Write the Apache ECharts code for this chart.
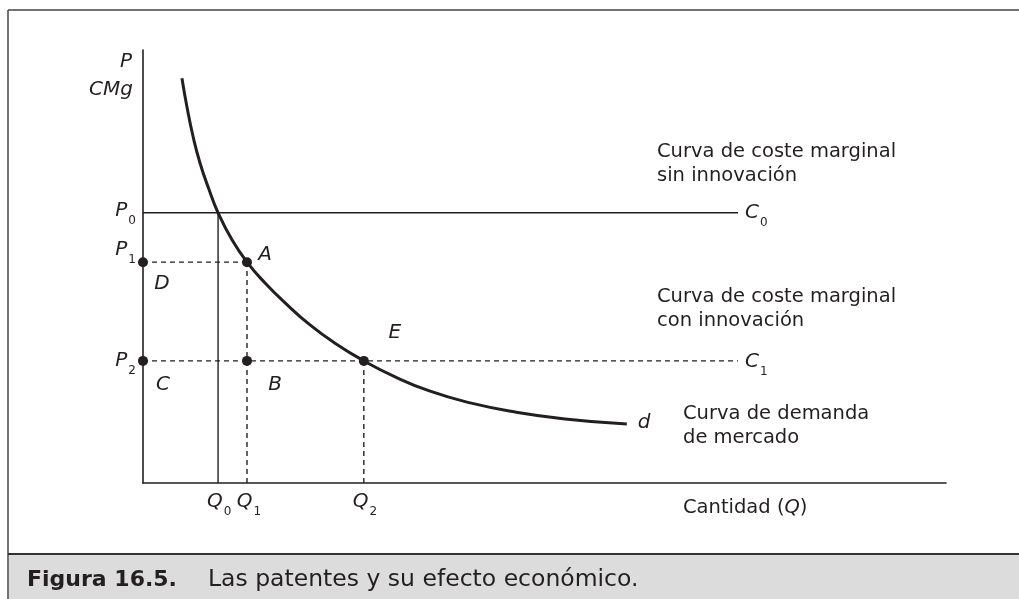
<!DOCTYPE html>
<html>
<head>
<meta charset="utf-8">
<script src="https://cdn.jsdelivr.net/npm/echarts@6/dist/echarts.min.js"></script>
<style>
html,body{margin:0;padding:0;background:#fff}
#main{width:1019px;height:599px}
</style>
</head>
<body>
<div id="main"></div>
<script>
// curva de demanda de mercado (d)
var demandaX = [0.97, 1.10, 1.25, 1.42, 1.64, 1.87, 2.22, 2.59, 3.04, 3.54, 4.16, 4.81, 5.50, 6.28, 7.15, 8.15, 9.27, 10.51, 12.05];
var demandaY = [9.35, 8.66, 7.99, 7.39, 6.79, 6.24, 5.61, 5.10, 4.62, 4.16, 3.65, 3.21, 2.82, 2.45, 2.12, 1.85, 1.64, 1.48, 1.36];
// precios P0 P1 P2 y cantidades Q0 Q1 Q2
var precios = [6.24, 5.10, 2.82];
var cantidades = [1.87, 2.59, 5.50];
// fin de las rectas de coste marginal C0 y C1
var finCoste = 14.82;

var negro = '#231f20';
var fuente = 'DejaVu Sans';

var P0 = precios[0], P1 = precios[1], P2 = precios[2];
var Q0 = cantidades[0], Q1 = cantidades[1], Q2 = cantidades[2];

var curva = demandaX.map(function (x, i) { return [x, demandaY[i]]; });

var rich = {
    i: {fontStyle: 'italic', fontSize: 20, lineHeight: 24, fontFamily: fuente, color: negro},
    s: {fontSize: 12, lineHeight: 12, padding: [20, 0, 0, 1], fontFamily: fuente, color: negro}
};

function seg(datos, tipo, ancho) {
    return {
        type: 'line', data: datos, symbol: 'none', silent: true,
        lineStyle: {color: negro, width: ancho || 1.4, type: tipo || 'solid'}
    };
}

// etiquetas ancladas a puntos del grafico
function etiq(punto, texto, alinear, dx, dy) {
    return {
        value: punto,
        label: {show: true, position: 'inside', formatter: texto, align: alinear, offset: [dx, dy], color: negro, rich: rich}
    };
}

var etiquetas = [
    etiq([0, 10], '{i|P}', 'right', -11, 12),
    etiq([0, 10], '{i|CMg}', 'right', -10, 40),
    etiq([0, P0], '{i|P}{s|0}', 'right', -7, -2),
    etiq([0, P1], '{i|P}{s|1}', 'right', -7, -12),
    etiq([0, P2], '{i|P}{s|2}', 'right', -7, 0),
    etiq([0, P1], '{i|D}', 'center', 19, 22),
    etiq([0, P2], '{i|C}', 'center', 20, 24),
    etiq([Q1, P1], '{i|A}', 'center', 18, -7),
    etiq([Q1, P2], '{i|B}', 'center', 28, 24),
    etiq([Q2, P2], '{i|E}', 'center', 31, -28),
    etiq([finCoste, P0], '{i|C}{s|0}', 'left', 7, 0),
    etiq([finCoste, P2], '{i|C}{s|1}', 'left', 7, 1),
    etiq(curva[curva.length - 1], '{i|d}', 'left', 11, -1),
    etiq([Q0, 0], '{i|Q}{s|0}', 'center', 1, 19),
    etiq([Q1, 0], '{i|Q}{s|1}', 'center', 2, 19),
    etiq([Q2, 0], '{i|Q}{s|2}', 'center', 1, 19)
];

function texto(x, y, t, extra) {
    var st = {text: t, fill: negro, fontFamily: fuente, fontSize: 19.5, lineHeight: 24, align: 'left', verticalAlign: 'top'};
    for (var k in extra) st[k] = extra[k];
    return {type: 'text', x: x, y: y, silent: true, style: st};
}

var chart = echarts.init(document.getElementById('main'));
chart.setOption({
    animation: false,
    backgroundColor: '#fff',
    grid: {left: 143, right: 73, top: 50, bottom: 116},
    xAxis: {
        type: 'value', min: 0, max: 20,
        axisLine: {show: true, onZero: false, lineStyle: {color: negro, width: 1.6}},
        axisTick: {show: false}, axisLabel: {show: false}, splitLine: {show: false}
    },
    yAxis: {
        type: 'value', min: 0, max: 10,
        axisLine: {show: true, onZero: false, lineStyle: {color: negro, width: 1.6}},
        axisTick: {show: false}, axisLabel: {show: false}, splitLine: {show: false}
    },
    series: [
        seg([[0, P0], [finCoste, P0]]),
        seg([[Q0, 0], [Q0, P0]]),
        seg([[0, P1], [Q1, P1]], [5, 4]),
        seg([[Q1, 0], [Q1, P1]], [5, 4]),
        seg([[0, P2], [finCoste, P2]], [5, 4]),
        seg([[Q2, 0], [Q2, P2]], [5, 4]),
        {
            type: 'line', data: curva, symbol: 'none', smooth: true, silent: true,
            lineStyle: {color: negro, width: 3}
        },
        {
            type: 'scatter', symbolSize: 10, silent: true, itemStyle: {color: negro, opacity: 1},
            data: [[0, P1], [Q1, P1], [0, P2], [Q1, P2], [Q2, P2]]
        },
        {type: 'scatter', symbolSize: 0, silent: true, itemStyle: {opacity: 1}, data: etiquetas}
    ],
    graphic: [
        // marco y pie de figura
        {type: 'rect', shape: {x: 9, y: 555, width: 1010, height: 44}, style: {fill: '#dcdcdc'}, silent: true},
        {type: 'line', shape: {x1: 8, y1: 10, x2: 1019, y2: 10}, style: {stroke: '#444', lineWidth: 1.5}, silent: true},
        {type: 'line', shape: {x1: 8, y1: 10, x2: 8, y2: 599}, style: {stroke: '#444', lineWidth: 1.5}, silent: true},
        {type: 'line', shape: {x1: 8, y1: 554, x2: 1019, y2: 554}, style: {stroke: '#333', lineWidth: 2}, silent: true},
        texto(27, 580, 'Figura 16.5.', {fontWeight: 'bold', fontSize: 22, verticalAlign: 'middle'}),
        texto(208, 580, 'Las patentes y su efecto económico.', {fontSize: 23.5, verticalAlign: 'middle'}),
        // textos explicativos
        texto(657, 140, 'Curva de coste marginal\nsin innovación'),
        texto(657, 285, 'Curva de coste marginal\ncon innovación'),
        texto(683, 402, 'Curva de demanda\nde mercado'),
        {
            type: 'text', x: 683, y: 508, silent: true,
            style: {
                text: 'Cantidad ({i|Q})', fill: negro, fontFamily: fuente, fontSize: 19.5, verticalAlign: 'middle',
                rich: {i: {fontStyle: 'italic', fontFamily: fuente, fontSize: 19.5, fill: negro}}
            }
        }
    ]
});
</script>
</body>
</html>
